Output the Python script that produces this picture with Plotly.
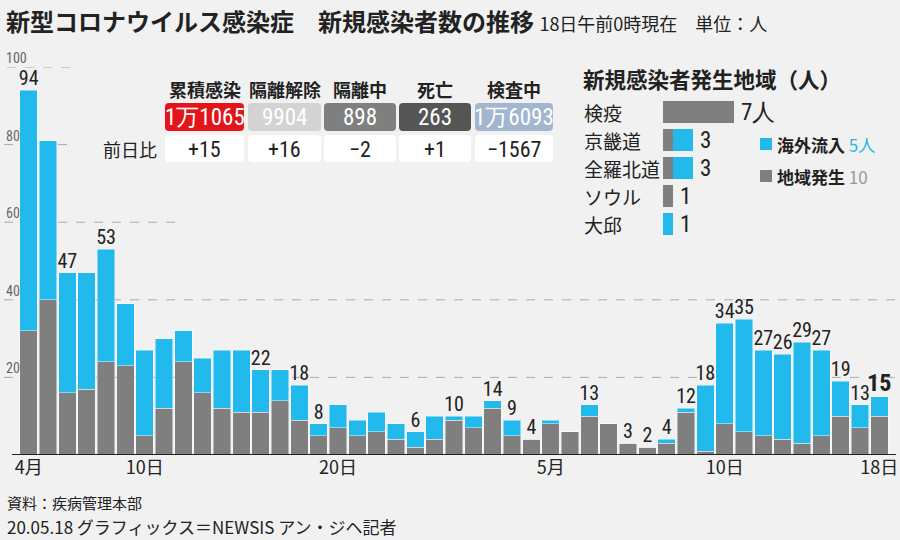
import pandas as pd
import plotly.graph_objects as go

# daily new cases, 4/4 - 5/18
days = pd.date_range("2020-04-04", "2020-05-18").strftime("%Y-%m-%d").tolist()
local = [32, 40, 16, 17, 24, 23, 5, 12, 24, 16, 12, 11, 11, 14, 9, 5, 7, 5, 6, 4, 2, 4, 9,
         7, 12, 5, 4, 8, 6, 10, 8, 3, 2, 3, 11, 1, 8, 6, 5, 4, 3, 5, 10, 7, 10]
imported = [62, 41, 31, 30, 29, 16, 22, 18, 8, 9, 15, 16, 11, 8, 9, 3, 6, 4, 5, 4, 4, 6, 1,
            3, 2, 4, 0, 1, 0, 3, 0, 0, 0, 1, 1, 17, 26, 29, 22, 22, 26, 22, 9, 6, 5]
labeled = [0, 2, 4, 12, 14, 15, 20, 22, 24, 25, 26, 29, 31, 32, 33, 34, 35, 36, 37, 38,
           39, 40, 41, 42, 43, 44]

tickDays = ["2020-04-04", "2020-04-10", "2020-04-20", "2020-05-01", "2020-05-10", "2020-05-18"]
tickText = ["4月", "10日", "20日", "5月", "10日", "18日"]
yTicks = [20, 40, 60, 80, 100]

tableHeads = ["累積感染", "隔離解除", "隔離中", "死亡", "検査中"]
tableValues = ["1万1065", "9904", "898", "263", "1万6093"]
tableDiffs = ["+15", "+16", "−2", "+1", "−1567"]

regionNames = ["検疫", "京畿道", "全羅北道", "ソウル", "大邱"]
regionGray = [7, 1, 1, 1, 0]
regionBlue = [0, 2, 2, 0, 1]
regionUnit = ["人", "", "", "", ""]

BLUE = "#22b9ec"
GRAY = "#7f7f7f"
BG = "#f1f1f1"
JP = "Noto Sans CJK JP"
NARROW = "Roboto Condensed, Noto Sans Condensed, Liberation Sans Narrow, Roboto, sans-serif"

# plot area in pixels
L, R, T, B = 19, 889, 67, 455


def fx(x):
    return (x - L) / (R - L)


def fy(y):
    return (B - y) / (B - T)


def rrect(x0, y0, x1, y1, r=4):
    pts = [("M", x0 + r, y0), ("L", x1 - r, y0), ("Q", x1, y0, x1, y0 + r),
           ("L", x1, y1 - r), ("Q", x1, y1, x1 - r, y1), ("L", x0 + r, y1),
           ("Q", x0, y1, x0, y1 - r), ("L", x0, y0 + r), ("Q", x0, y0, x0 + r, y0)]
    s = ""
    for p in pts:
        if p[0] == "Q":
            s += f"Q{fx(p[1]):.5f},{fy(p[2]):.5f} {fx(p[3]):.5f},{fy(p[4]):.5f} "
        else:
            s += f"{p[0]}{fx(p[1]):.5f},{fy(p[2]):.5f} "
    return s + "Z"


def note(x, y, text, size, color="#222", family=JP, xa="left", ya="middle", **kw):
    d = dict(x=x, y=y, text=text, showarrow=False, xanchor=xa, yanchor=ya,
             font=dict(family=family, size=size, color=color))
    d.setdefault("xref", "paper")
    d.setdefault("yref", "paper")
    d.update(kw)
    return d


totals = [a + b for a, b in zip(local, imported)]

fig = go.Figure()
fig.add_trace(go.Bar(x=days, y=local, marker=dict(color=GRAY, line=dict(color="rgba(255,255,255,0.55)", width=0.8)),
                     hoverinfo="skip"))
fig.add_trace(go.Bar(x=days, y=imported, marker=dict(color=BLUE, line=dict(color="rgba(255,255,255,0.55)", width=0.8)),
                     hoverinfo="skip"))
labText = [str(totals[i]) for i in labeled]
labText[-1] = "<b>" + labText[-1] + "</b>"
labSize = [20] * len(labeled)
labSize[-1] = 24
fig.add_trace(go.Scatter(x=[days[i] for i in labeled], y=[totals[i] for i in labeled],
                         mode="text", text=labText, textposition="top center",
                         textfont=dict(family=NARROW, size=labSize, color="#222"),
                         cliponaxis=False, hoverinfo="skip"))

# region chart
fig.add_trace(go.Bar(y=regionNames, x=regionGray, orientation="h", width=0.82,
                     marker=dict(color=GRAY, line=dict(width=0)), xaxis="x2", yaxis="y2", hoverinfo="skip"))
fig.add_trace(go.Bar(y=regionNames, x=regionBlue, orientation="h", width=0.82,
                     marker=dict(color=BLUE, line=dict(width=0)), xaxis="x2", yaxis="y2", hoverinfo="skip"))

shapes = []
ann = []

# dashed grid lines (partly hidden behind the panels)
gridExtent = {20: (4, 900), 40: (4, 900), 60: (4, 182), 80: (4, 73), 100: (7, 70)}
for v in yTicks:
    x0, x1 = gridExtent[v]
    shapes.append(dict(type="line", xref="paper", yref="y", x0=fx(x0), x1=fx(x1), y0=v, y1=v,
                       line=dict(color="#aaaaaa", width=1, dash="dash"), layer="below"))
    ann.append(note(fx(4), v, str(v), 14, "#666", NARROW, ya="bottom", yref="y", yshift=-1))
shapes.append(dict(type="line", xref="paper", yref="y", x0=fx(12), x1=fx(896), y0=0, y1=0,
                   line=dict(color="#222", width=2)))

# title
ann.append(note(fx(4), fy(21),
                "<b>新型コロナウイルス感染症　新規感染者数の推移</b> "
                "<span style='font-size:18px'>18日午前0時現在　単位：人</span>", 24))

# summary table
boxL = [165, 248, 324, 399, 475]
boxR = [244, 321, 396, 471, 553]
boxColors = ["#e3151a", "#d3d3d3", "#7f7f7f", "#555555", "#a2b6cf"]
for i in range(5):
    cx = (boxL[i] + boxR[i]) / 2
    shapes.append(dict(type="path", xref="paper", yref="paper", path=rrect(boxL[i], 103, boxR[i], 131),
                       fillcolor=boxColors[i], line=dict(width=0)))
    shapes.append(dict(type="path", xref="paper", yref="paper", path=rrect(boxL[i], 135, boxR[i], 162),
                       fillcolor="white", line=dict(width=0)))
    ann.append(note(fx(cx), fy(89), "<b>" + tableHeads[i] + "</b>", 18, xa="center"))
    ann.append(note(fx(cx), fy(117), tableValues[i], 23, "white", NARROW, xa="center"))
    ann.append(note(fx(cx), fy(149), tableDiffs[i], 22, "#222", NARROW, xa="center"))
ann.append(note(fx(159), fy(149), "前日比", 18, xa="right"))

# region panel
ann.append(note(fx(581), fy(78), "<b>新規感染者発生地域（人）</b>", 21.5))
for i, name in enumerate(regionNames):
    ann.append(note(fx(582), name, name, 19, yref="y2"))
    ann.append(note(regionGray[i] + regionBlue[i], name, str(regionGray[i] + regionBlue[i]) + regionUnit[i],
                    23, "#222", NARROW, xref="x2", yref="y2", xshift=5))

legendRows = [("海外流入", "5人", BLUE, BLUE, 144), ("地域発生", "10", GRAY, "#999999", 176)]
for lab, val, sq, vc, yc in legendRows:
    shapes.append(dict(type="rect", xref="paper", yref="paper", x0=fx(760), x1=fx(772),
                       y0=fy(yc + 6), y1=fy(yc - 6), fillcolor=sq, line=dict(width=0)))
    ann.append(note(fx(775), fy(yc), f"<b>{lab}</b> <span style='color:{vc}'>{val}</span>", 17))

# source
ann.append(note(fx(5), fy(502), "資料：疾病管理本部", 15))
ann.append(note(fx(5), fy(526), "20.05.18 グラフィックス＝NEWSIS アン・ジヘ記者", 17))

fig.update_layout(
    width=900, height=540,
    margin=dict(l=L, r=900 - R, t=T, b=540 - B, autoexpand=False),
    paper_bgcolor=BG, plot_bgcolor=BG,
    barmode="stack", bargap=0.1,
    showlegend=False,
    shapes=shapes, annotations=ann,
    xaxis=dict(type="date", range=["2020-04-03 12:00", "2020-05-18 12:00"],
               tickvals=tickDays, ticktext=tickText, showgrid=False, zeroline=False,
               ticks="", tickfont=dict(family=JP, size=18, color="#222")),
    yaxis=dict(range=[0, 100], showgrid=False, zeroline=False, showticklabels=False),
    xaxis2=dict(domain=[fx(663), fx(764)], range=[0, 10], visible=False, anchor="y2"),
    yaxis2=dict(domain=[fy(238), fy(98)], type="category", categoryorder="array",
                categoryarray=regionNames, range=[4.5, -0.5], visible=False, anchor="x2"),
)

fig.write_html("out.html", config={"displayModeBar": False},
               post_script="document.body.style.margin='0px';")
